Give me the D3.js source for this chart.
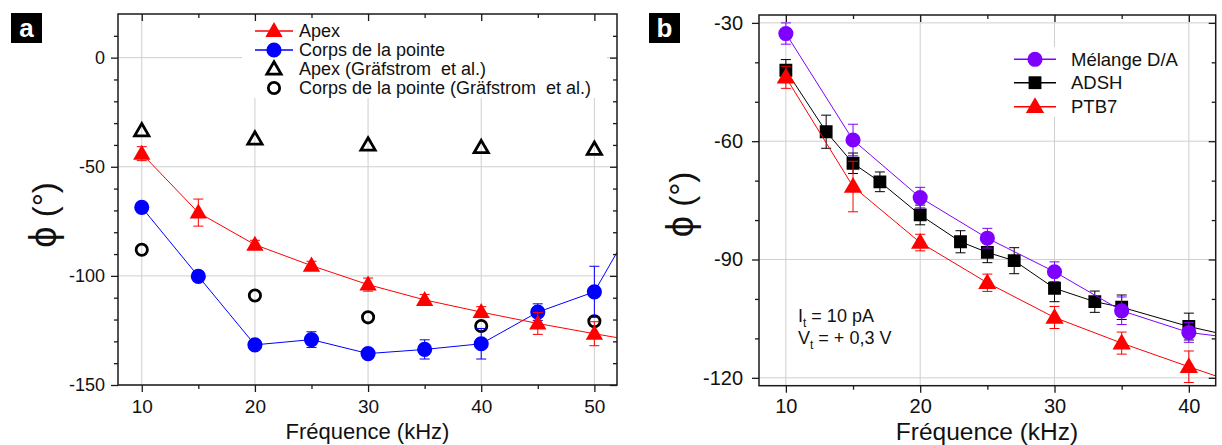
<!DOCTYPE html>
<html><head><meta charset="utf-8">
<script src="https://cdn.jsdelivr.net/npm/d3@7"></script>
<style>body{margin:0;background:#fff} text{font-family:"Liberation Sans",Arial,Helvetica,sans-serif}</style>
</head><body><svg id="c" width="1222" height="445" xmlns="http://www.w3.org/2000/svg"></svg>
<script>
// ---------- Panel a data ----------
const freqA = [10, 15, 20, 25, 30, 35, 40, 45, 50, 55];
const apexA = [-44, -71, -85.7, -95.3, -104, -111, -116.6, -121.8, -126.5, -131];
const apexErrA = [3.2, 6.2, 2, 2, 3, 2.5, 2.5, 5, 5.5, 0];
const corpsA = [-68.6, -100.2, -131.6, -129.2, -135.6, -133.7, -131.1, -116.6, -107.3, -62];
const corpsErrA = [0, 0, 0, 3.6, 0, 4.4, 7, 3.8, 11.7, 0];
const freqG = [10, 20, 30, 40, 50];
const apexG = [-33.5, -37.3, -40, -41.2, -42];
const corpsG = [-88, -109, -119, -123, -120.8];
const xTicksA = [10, 20, 30, 40, 50];
const xMinorA = [15, 25, 35, 45];
const yTicksA = [-150, -100, -50, 0];
const yMinorA = [-140, -130, -120, -110, -90, -80, -70, -60, -40, -30, -20, -10, 10];
const legendA = ["Apex", "Corps de la pointe", "Apex (Gräfstrom  et al.)", "Corps de la pointe (Gräfstrom  et al.)"];

// ---------- Panel b data ----------
const freqMel = [10, 15, 20, 25, 30, 35, 40, 45];
const melange = [-32.7, -59.7, -74.3, -84.6, -93.1, -103, -108.5, -110.6];
const melangeErr = [2.7, 4, 2.6, 2.5, 2.5, 3.5, 2.5, 0];
const freqAdsh = [10, 13, 15, 17, 20, 23, 25, 27, 30, 33, 35, 40, 45];
const adsh = [-42, -57.6, -65.6, -70.3, -78.7, -85.5, -88.2, -90.3, -97.3, -100.7, -102.1, -107, -110.8];
const adshErr = [2.7, 4.2, 2.6, 2.5, 2.5, 2.8, 2.6, 3.3, 3.4, 2.7, 3.1, 3.4, 0];
const freqPtb = [10, 15, 20, 25, 30, 35, 40, 45];
const ptb7 = [-43.8, -71.5, -85.7, -95.9, -104.7, -111.2, -117.2, -123];
const ptb7Err = [2.8, 6.4, 2.1, 2.2, 2.8, 2.8, 4, 0];
const xTicksB = [10, 20, 30, 40];
const xMinorB = [15, 25, 35];
const yTicksB = [-120, -90, -60, -30];
const yMinorB = [-110, -100, -80, -70, -50, -40];
const legendB = ["Mélange D/A", "ADSH", "PTB7"];

const svg = d3.select("#c");
const GRID = "#cfcfcf", AXC = "#1a1a1a";

function setupPanel(o) {
  const x = d3.scaleLinear().domain(o.xDomain).range([o.left, o.right]);
  const y = d3.scaleLinear().domain(o.yDomain).range([o.bottom, o.top]);
  const g = svg.append("g");
  g.append("g").selectAll("line").data(o.xTicks).join("line")
    .attr("x1", d => x(d)).attr("x2", d => x(d)).attr("y1", o.top).attr("y2", o.bottom)
    .attr("stroke", GRID).attr("stroke-width", 1);
  g.append("g").selectAll("line").data(o.yTicks).join("line")
    .attr("y1", d => y(d)).attr("y2", d => y(d)).attr("x1", o.left).attr("x2", o.right)
    .attr("stroke", GRID).attr("stroke-width", 1);
  g.append("rect").attr("x", o.legBox[0]).attr("y", o.legBox[1]).attr("width", o.legBox[2]).attr("height", o.legBox[3]).attr("fill", "#fff");
  const clipId = "clip" + o.id;
  svg.append("clipPath").attr("id", clipId).append("rect")
    .attr("x", o.left).attr("y", o.top).attr("width", o.right - o.left).attr("height", o.bottom - o.top);
  const data = g.append("g").attr("clip-path", `url(#${clipId})`);
  const fmt = d => String(d);
  function ax(axis, tr, size, pad, fs) {
    const a = g.append("g").attr("transform", tr).call(axis.tickSize(size).tickSizeOuter(0).tickPadding(pad));
    a.select(".domain").remove();
    a.selectAll("line").attr("stroke", AXC).attr("stroke-width", 1.3);
    a.selectAll("text").attr("font-size", fs).attr("fill", "#111").attr("font-family", '"Liberation Sans",Arial,sans-serif');
    return a;
  }
  ax(d3.axisBottom(x).tickValues(o.xTicks).tickFormat(fmt), `translate(0,${o.bottom})`, 7, o.xPad, o.xFs);
  ax(d3.axisBottom(x).tickValues(o.xMinor).tickFormat(""), `translate(0,${o.bottom})`, 4, 0, 0);
  ax(d3.axisLeft(y).tickValues(o.yTicks).tickFormat(fmt), `translate(${o.left},0)`, 7, o.yPad, o.yFs);
  ax(d3.axisLeft(y).tickValues(o.yMinor).tickFormat(""), `translate(${o.left},0)`, 4, 0, 0);
  ax(d3.axisTop(x).tickValues(o.xTicks).tickFormat(""), `translate(0,${o.top})`, -7, 0, 0);
  ax(d3.axisTop(x).tickValues(o.xMinor).tickFormat(""), `translate(0,${o.top})`, -4, 0, 0);
  ax(d3.axisRight(y).tickValues(o.yTicks).tickFormat(""), `translate(${o.right},0)`, -7, 0, 0);
  ax(d3.axisRight(y).tickValues(o.yMinor).tickFormat(""), `translate(${o.right},0)`, -4, 0, 0);
  g.append("rect").attr("x", o.left).attr("y", o.top).attr("width", o.right - o.left).attr("height", o.bottom - o.top)
    .attr("fill", "none").attr("stroke", AXC).attr("stroke-width", 1.5);
  return {x, y, g, data};
}

function series(p, xs, ys, errs, color, sym, size, opts = {}) {
  const {x, y, data} = p;
  const pts = xs.map((d, i) => ({f: d, v: ys[i], e: errs ? errs[i] : 0}));
  if (opts.line !== false) {
    data.append("path").datum(pts).attr("fill", "none").attr("stroke", color).attr("stroke-width", 1)
      .attr("d", d3.line().x(d => x(d.f)).y(d => y(d.v)));
  }
  const eb = data.append("g").attr("stroke", color).attr("stroke-width", 1);
  pts.filter(d => d.e > 0).forEach(d => {
    const cx = x(d.f);
    eb.append("line").attr("x1", cx).attr("x2", cx).attr("y1", y(d.v - d.e)).attr("y2", y(d.v + d.e));
    [d.v - d.e, d.v + d.e].forEach(v => eb.append("line").attr("x1", cx - 5).attr("x2", cx + 5).attr("y1", y(v)).attr("y2", y(v)));
  });
  data.append("g").selectAll("path").data(pts).join("path")
    .attr("transform", d => `translate(${x(d.f)},${y(d.v) + (opts.dy || 0)})`)
    .attr("d", d3.symbol().type(sym).size(size))
    .attr("fill", opts.open ? "none" : color)
    .attr("stroke", opts.open ? color : "none")
    .attr("stroke-width", opts.open ? 2.8 : 0);
}

function legendRow(cx, cy, color, sym, size, label, fs, opts = {}) {
  if (opts.line !== false) svg.append("line").attr("x1", cx - opts.half).attr("x2", cx + opts.half).attr("y1", cy).attr("y2", cy).attr("stroke", color).attr("stroke-width", 1.5);
  svg.append("path").attr("transform", `translate(${cx},${cy + (opts.dy || 0)})`).attr("d", d3.symbol().type(sym).size(size))
    .attr("fill", opts.open ? "none" : color).attr("stroke", opts.open ? color : "none").attr("stroke-width", opts.open ? 2.8 : 0);
  svg.append("text").attr("x", opts.tx).attr("y", cy).attr("dy", "0.36em").attr("font-size", fs).attr("fill", "#111")
    .style("white-space", "pre").text(label);
}

// ================= Panel a =================
const pa = setupPanel({id: "a", left: 118, right: 617, top: 14, bottom: 385,
  xDomain: [7.9, 52], yDomain: [-150, 20], xTicks: xTicksA, xMinor: xMinorA, yTicks: yTicksA, yMinor: yMinorA,
  xPad: 8, xFs: 19, yPad: 6, yFs: 18, legBox: [242, 15, 365, 83]});
series(pa, freqG, apexG, null, "#000", d3.symbolTriangle, 88, {open: true, line: false, dy: 1});
series(pa, freqG, corpsG, null, "#000", d3.symbolCircle, 100, {open: true, line: false});
series(pa, freqA, corpsA, corpsErrA, "#0000ff", d3.symbolCircle, 180);
series(pa, freqA, apexA, apexErrA, "#ff0000", d3.symbolTriangle, 130, {dy: 1});
legendRow(274, 31, "#ff0000", d3.symbolTriangle, 130, legendA[0], 18, {half: 19, tx: 299, dy: 1});
legendRow(274, 50, "#0000ff", d3.symbolCircle, 180, legendA[1], 18, {half: 19, tx: 299});
legendRow(274, 69, "#000", d3.symbolTriangle, 88, legendA[2], 18, {line: false, open: true, tx: 299, dy: 1});
legendRow(274, 88, "#000", d3.symbolCircle, 100, legendA[3], 18, {line: false, open: true, tx: 299});
svg.append("text").attr("x", 367.5).attr("y", 439).attr("text-anchor", "middle").attr("font-size", 22).attr("fill", "#111").text("Fréquence (kHz)");
const ta = svg.append("text").attr("transform", "translate(56,215) rotate(-90)").attr("text-anchor", "middle").attr("fill", "#111");
ta.append("tspan").attr("font-size", 38).text("ϕ");
ta.append("tspan").attr("font-size", 33).text(" (°)");
svg.append("rect").attr("x", 11).attr("y", 13).attr("width", 31).attr("height", 30).attr("fill", "#000");
svg.append("text").attr("x", 26.5).attr("y", 37).attr("text-anchor", "middle").attr("font-size", 26).attr("font-weight", "bold").attr("fill", "#fff").text("a");

// ================= Panel b =================
const pb = setupPanel({id: "b", left: 759, right: 1215.7, top: 15, bottom: 385.7,
  xDomain: [8, 42], yDomain: [-122, -28], xTicks: xTicksB, xMinor: xMinorB, yTicks: yTicksB, yMinor: yMinorB,
  xPad: 6.5, xFs: 20, yPad: 9, yFs: 20, legBox: [1005, 47, 180, 70]});
series(pb, freqAdsh, adsh, adshErr, "#000000", d3.symbolSquare, 165);
series(pb, freqMel, melange, melangeErr, "#8000ff", d3.symbolCircle, 180);
series(pb, freqPtb, ptb7, ptb7Err, "#ff0000", d3.symbolTriangle, 145, {dy: 1});
legendRow(1035, 59.3, "#8000ff", d3.symbolCircle, 180, legendB[0], 18.5, {half: 21, tx: 1071});
legendRow(1035, 82.7, "#000000", d3.symbolSquare, 165, legendB[1], 18.5, {half: 21, tx: 1071});
legendRow(1035, 106.7, "#ff0000", d3.symbolTriangle, 145, legendB[2], 18.5, {half: 21, tx: 1071, dy: 1});
function annot(y, main, rest) {
  const t = svg.append("text").attr("x", 798).attr("y", y).attr("font-size", 18).attr("fill", "#111");
  t.append("tspan").text(main);
  t.append("tspan").attr("font-size", 12).attr("dy", 5).text("t");
  t.append("tspan").attr("dy", -5).text(rest);
}
annot(321.5, "I", " = 10 pA");
annot(343.5, "V", " = + 0,3 V");
svg.append("text").attr("x", 987).attr("y", 439.8).attr("text-anchor", "middle").attr("font-size", 24.5).attr("fill", "#111").text("Fréquence (kHz)");
const tb = svg.append("text").attr("transform", "translate(693,204.5) rotate(-90)").attr("text-anchor", "middle").attr("fill", "#111");
tb.append("tspan").attr("font-size", 38).text("ϕ");
tb.append("tspan").attr("font-size", 33).text(" (°)");
svg.append("rect").attr("x", 649).attr("y", 13).attr("width", 31).attr("height", 30).attr("fill", "#000");
svg.append("text").attr("x", 664.5).attr("y", 37).attr("text-anchor", "middle").attr("font-size", 26).attr("font-weight", "bold").attr("fill", "#fff").text("b");
</script>
</body></html>
